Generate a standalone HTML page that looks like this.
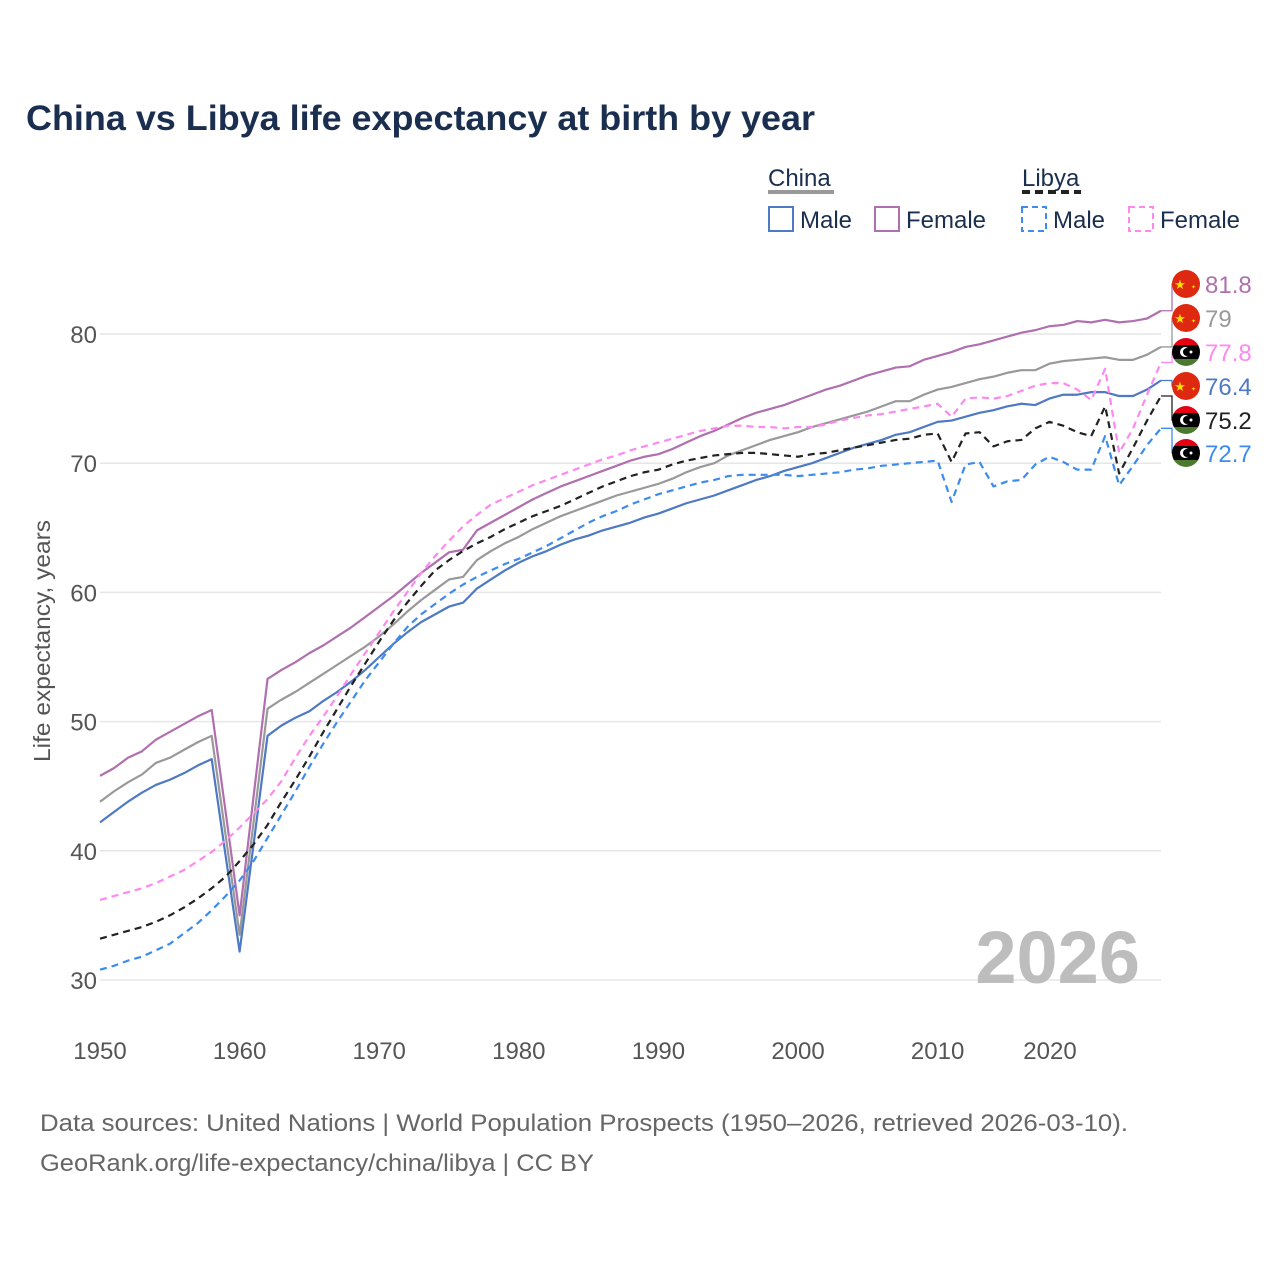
<!DOCTYPE html>
<html><head><meta charset="utf-8"><style>
body{margin:0;background:#fff;width:1280px;height:1280px;overflow:hidden;font-family:"Liberation Sans",sans-serif}
</style></head><body>
<svg id="chart" width="1280" height="1280" xmlns="http://www.w3.org/2000/svg" font-family="Liberation Sans, sans-serif">
<text x="26" y="130" font-size="35" font-weight="bold" fill="#1a2e4f" textLength="789" lengthAdjust="spacingAndGlyphs">China vs Libya life expectancy at birth by year</text>
<g font-size="24" fill="#1a2e4f">
 <text x="768" y="186">China</text>
 <line x1="768" y1="192" x2="834" y2="192" stroke="#999" stroke-width="4"/>
 <text x="1022" y="186">Libya</text>
 <line x1="1022" y1="192" x2="1081" y2="192" stroke="#222" stroke-width="4" stroke-dasharray="8,5"/>
 <rect x="769" y="207" width="24" height="24" fill="none" stroke="#4e79c4" stroke-width="2"/>
 <text x="800" y="228">Male</text>
 <rect x="875" y="207" width="24" height="24" fill="none" stroke="#b06fae" stroke-width="2"/>
 <text x="906" y="228">Female</text>
 <rect x="1022" y="207" width="24" height="24" fill="none" stroke="#3d8bef" stroke-width="2" stroke-dasharray="6,4"/>
 <text x="1053" y="228">Male</text>
 <rect x="1129" y="207" width="24" height="24" fill="none" stroke="#ff88f0" stroke-width="2" stroke-dasharray="6,4"/>
 <text x="1160" y="228">Female</text>
</g>
<g id="grid"></g><g id="xt"></g><g id="series"></g><g id="ends"></g>
<text transform="translate(50,641) rotate(-90)" text-anchor="middle" font-size="23" fill="#555" textLength="242" lengthAdjust="spacingAndGlyphs">Life expectancy, years</text>
<text x="1140" y="983" text-anchor="end" font-size="74" font-weight="bold" fill="#bdbdbd">2026</text>
<text x="40" y="1131" font-size="24" fill="#666" textLength="1088" lengthAdjust="spacingAndGlyphs">Data sources: United Nations | World Population Prospects (1950–2026, retrieved 2026-03-10).</text>
<text x="40" y="1171" font-size="24" fill="#666" textLength="554" lengthAdjust="spacingAndGlyphs">GeoRank.org/life-expectancy/china/libya | CC BY</text>
</svg>
<script>
const years=[];for(let y=1950;y<=2026;y++)years.push(y);
const yTicks=[30,40,50,60,70,80];
const xTicks=[1950,1960,1970,1980,1990,2000,2010,2020];
const chinaFemale=[45.8,46.4,47.2,47.7,48.6,49.2,49.8,50.4,50.9,43.0,35.0,44.2,53.3,54.0,54.6,55.3,55.9,56.6,57.3,58.1,58.9,59.7,60.6,61.5,62.3,63.1,63.3,64.8,65.4,66.0,66.6,67.2,67.7,68.2,68.6,69.0,69.4,69.8,70.2,70.5,70.7,71.1,71.6,72.1,72.5,73.0,73.5,73.9,74.2,74.5,74.9,75.3,75.7,76.0,76.4,76.8,77.1,77.4,77.5,78.0,78.3,78.6,79.0,79.2,79.5,79.8,80.1,80.3,80.6,80.7,81.0,80.9,81.1,80.9,81.0,81.2,81.8];
const chinaTotal=[43.8,44.6,45.3,45.9,46.8,47.2,47.8,48.4,48.9,41.2,33.5,42.2,51.0,51.7,52.3,53.0,53.7,54.4,55.1,55.8,56.6,57.5,58.5,59.4,60.2,61.0,61.2,62.5,63.2,63.8,64.3,64.9,65.4,65.9,66.3,66.7,67.1,67.5,67.8,68.1,68.4,68.8,69.3,69.7,70.0,70.6,71.0,71.4,71.8,72.1,72.4,72.8,73.1,73.4,73.7,74.0,74.4,74.8,74.8,75.3,75.7,75.9,76.2,76.5,76.7,77.0,77.2,77.2,77.7,77.9,78.0,78.1,78.2,78.0,78.0,78.4,79.0];
const chinaMale=[42.2,43.0,43.8,44.5,45.1,45.5,46.0,46.6,47.1,39.6,32.2,40.5,48.9,49.7,50.3,50.8,51.6,52.3,53.1,54.0,55.0,56.0,56.9,57.7,58.3,58.9,59.2,60.3,61.0,61.7,62.3,62.8,63.2,63.7,64.1,64.4,64.8,65.1,65.4,65.8,66.1,66.5,66.9,67.2,67.5,67.9,68.3,68.7,69.0,69.4,69.7,70.0,70.4,70.8,71.2,71.5,71.8,72.2,72.4,72.8,73.2,73.3,73.6,73.9,74.1,74.4,74.6,74.5,75.0,75.3,75.3,75.5,75.5,75.2,75.2,75.7,76.4];
const libyaFemale=[36.2,36.5,36.8,37.1,37.5,38.0,38.5,39.2,39.9,40.8,41.8,42.9,44.0,45.4,47.2,48.9,50.4,52.0,53.7,55.3,56.9,58.5,60.0,61.5,62.8,64.0,65.1,66.0,66.8,67.3,67.8,68.3,68.7,69.1,69.5,69.9,70.3,70.6,71.0,71.3,71.6,71.9,72.2,72.5,72.7,72.9,72.9,72.8,72.8,72.7,72.8,72.8,73.0,73.3,73.5,73.7,73.8,74.0,74.2,74.4,74.6,73.6,75.0,75.1,75.0,75.2,75.6,76.0,76.2,76.2,75.7,74.9,77.3,70.8,72.7,75.3,77.8];
const libyaTotal=[33.2,33.5,33.8,34.1,34.5,35.0,35.6,36.3,37.1,38.0,39.2,40.5,42.0,43.8,45.5,47.3,49.2,51.0,52.8,54.5,56.2,57.8,59.2,60.5,61.7,62.5,63.2,63.8,64.3,64.9,65.4,65.9,66.3,66.7,67.2,67.7,68.2,68.6,69.0,69.3,69.5,69.9,70.2,70.4,70.6,70.7,70.8,70.8,70.7,70.6,70.5,70.7,70.8,71.0,71.2,71.4,71.6,71.8,71.9,72.2,72.3,70.1,72.3,72.4,71.3,71.7,71.8,72.7,73.2,72.9,72.4,72.1,74.4,69.2,71.2,73.3,75.2];
const libyaMale=[30.8,31.1,31.5,31.8,32.3,32.8,33.6,34.4,35.4,36.5,37.7,39.2,41.0,42.8,44.6,46.5,48.3,50.0,51.6,53.2,54.6,56.0,57.3,58.3,59.1,59.9,60.6,61.2,61.7,62.2,62.6,63.1,63.6,64.2,64.8,65.4,65.9,66.3,66.8,67.2,67.6,67.9,68.2,68.5,68.7,69.0,69.1,69.1,69.1,69.1,69.0,69.1,69.2,69.3,69.5,69.6,69.8,69.9,70.0,70.1,70.2,67.0,69.9,70.1,68.2,68.6,68.7,69.9,70.5,70.1,69.5,69.5,72.1,68.3,69.8,71.4,72.7];
const NS="http://www.w3.org/2000/svg";
const X=y=>100+(y-1950)*(1061/76);
const Y=v=>334+(80-v)*12.92;
function mk(tag,attrs,parent){const e=document.createElementNS(NS,tag);for(const k in attrs)e.setAttribute(k,attrs[k]);parent.appendChild(e);return e;}
const grid=document.getElementById('grid');
yTicks.forEach(t=>{
 const l=mk('line',{x1:100,x2:1161,y1:Y(t),y2:Y(t),stroke:'#e6e6e6','stroke-width':1.5},grid);
 
 
 const tx=mk('text',{x:97,y:Y(t)+9,'text-anchor':'end','font-size':24,fill:'#555'},grid);
 tx.textContent=t;
 
 
});
const xt=document.getElementById('xt');
xTicks.forEach(t=>{
 const tx=mk('text',{x:Math.min(X(t),1050),y:1059,'text-anchor':'middle','font-size':24,fill:'#555'},xt);
 tx.textContent=t;
 
 
});
const series=[
 {n:'china-female',d:chinaFemale,c:'#b06fae',dash:null},
 {n:'china-total',d:chinaTotal,c:'#999999',dash:null},
 {n:'china-male',d:chinaMale,c:'#4e79c4',dash:null},
 {n:'libya-female',d:libyaFemale,c:'#ff88f0',dash:'7,5'},
 {n:'libya-total',d:libyaTotal,c:'#222222',dash:'7,5'},
 {n:'libya-male',d:libyaMale,c:'#3d8bef',dash:'7,5'}
];
const sg=document.getElementById('series');
series.forEach(s=>{
 const p=mk('polyline',{points:s.d.map((v,i)=>X(years[i])+','+Y(v)).join(' '),fill:'none',stroke:s.c,'stroke-width':2.2,'stroke-linejoin':'round'},sg);
 if(s.dash)p.setAttribute('stroke-dasharray',s.dash);
 
 
});
const ends=document.getElementById('ends');
const labelY=[284,318,352,386,420,453];
const flags=['china','china','libya','china','libya','libya'];
const order=[0,1,3,2,4,5];
const lastX=X(2026);
order.forEach((si,k)=>{
 const s=series[si];const v=s.d[s.d.length-1];const ly=labelY[k];
 const c=mk('polyline',{points:`${lastX},${Y(v)} ${lastX+11},${Y(v)} ${lastX+11},${ly} ${lastX+14},${ly}`,fill:'none',stroke:s.c,'stroke-width':1.3},ends);
 
 
 const g=mk('g',{},ends);
 
 
 if(flags[k]==='china'){
  mk('circle',{cx:1186,cy:ly,r:14,fill:'#de2910'},g);
  const st=mk('text',{x:1180,y:ly+5,'text-anchor':'middle','font-size':13,fill:'#ffde00'},g);st.textContent='★';
  const st2=mk('text',{x:1191,y:ly+5,'font-size':6,fill:'#ffde00'},g);st2.textContent='✦';
 } else {
  const cp='clip'+k;
  const d=mk('clipPath',{id:cp},g);mk('circle',{cx:1186,cy:ly,r:14},d);
  mk('rect',{x:1172,y:ly-14,width:28,height:7,fill:'#e70013','clip-path':`url(#${cp})`},g);
  mk('rect',{x:1172,y:ly-7,width:28,height:14,fill:'#000','clip-path':`url(#${cp})`},g);
  mk('rect',{x:1172,y:ly+7,width:28,height:7,fill:'#4b7a2e','clip-path':`url(#${cp})`},g);
  mk('circle',{cx:1185,cy:ly,r:5,fill:'#fff'},g);
  mk('circle',{cx:1187,cy:ly,r:4,fill:'#000'},g);
  mk('circle',{cx:1191,cy:ly,r:1.5,fill:'#fff'},g);
 }
 const t=mk('text',{x:1205,y:ly+9,'font-size':24,fill:s.c},ends);
 t.textContent=v;
 
 
});
</script>
</body></html>
